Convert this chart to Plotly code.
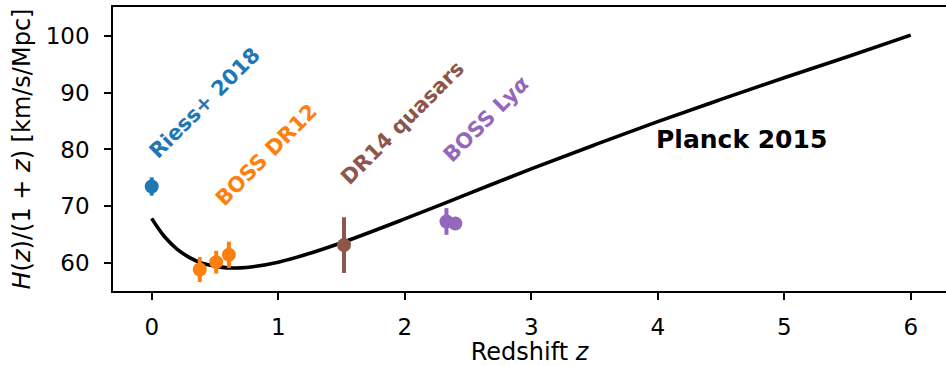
import plotly.graph_objects as go

# Planck 2015 curve
curve_z = [0.0, 0.05, 0.1, 0.2, 0.3, 0.4, 0.5, 0.6, 0.7, 0.8, 1.0, 1.2, 1.5, 2.0, 2.5, 3.0, 3.5, 4.0, 4.5, 5.0, 5.5, 6.0]
curve_h = [67.9, 66.2, 64.7, 62.5, 61.0, 60.0, 59.5, 59.2, 59.2, 59.4, 60.2, 61.4, 63.6, 67.8, 72.2, 76.6, 80.8, 84.9, 88.8, 92.6, 96.3, 100.1]

# Measurements
riess_z = [0.0]
riess_h = [73.5]
riess_err = [1.6]

dr12_z = [0.38, 0.51, 0.61]
dr12_h = [58.9, 60.2, 61.5]
dr12_err = [2.2, 2.0, 2.3]

qso_z = [1.52]
qso_h = [63.2]
qso_err = [4.9]

lya_z = [2.33, 2.40]
lya_h = [67.35, 67.0]
lya_err = [2.35, 1.0]

# Labels
labels = ["Riess+ 2018", "BOSS DR12", "DR14 quasars", "BOSS Ly<i>α</i>", "Planck 2015"]
label_x = [0.42, 0.907, 1.983, 2.647, 4.665]
label_y = [88.1, 78.96, 84.6, 85.3, 81.8]
label_angle = [-45, -45, -45, -45, 0]
label_size = [21, 21, 21, 21, 25]
colors = ["#1f77b4", "#ff7f0e", "#8c564b", "#9467bd", "black"]

FONT = "DejaVu Sans"

fig = go.Figure()
fig.add_trace(go.Scatter(x=curve_z, y=curve_h, mode="lines", line=dict(color="black", width=3.6, shape="spline"), showlegend=False))

def pts(x, y, e, c):
    fig.add_trace(go.Scatter(
        x=x, y=y, mode="markers",
        marker=dict(color=c, size=14),
        error_y=dict(type="data", array=e, visible=True, color=c, thickness=4, width=0),
        showlegend=False))

pts(riess_z, riess_h, riess_err, colors[0])
pts(dr12_z, dr12_h, dr12_err, colors[1])
pts(qso_z, qso_h, qso_err, colors[2])
pts(lya_z, lya_h, lya_err, colors[3])

for t, x, y, a, s, c in zip(labels, label_x, label_y, label_angle, label_size, colors):
    fig.add_annotation(x=x, y=y, text="<b>" + t + "</b>", textangle=a, showarrow=False,
                       xanchor="center", yanchor="middle",
                       font=dict(family=FONT, size=s, color=c))

fig.update_layout(
    width=946, height=366,
    margin=dict(l=113, r=0, t=7, b=75),
    paper_bgcolor="white", plot_bgcolor="white",
    font=dict(family=FONT, size=23, color="black"),
)
fig.update_xaxes(
    range=[-0.306, 6.279], tickvals=[0, 1, 2, 3, 4, 5, 6],
    showline=True, linecolor="black", linewidth=1.6, mirror=True,
    ticks="outside", ticklen=7, tickwidth=1.6, tickcolor="black",
    showgrid=False, zeroline=False,
    tickfont=dict(family=FONT, size=23, color="black"),
    title=dict(text="Redshift <i>z</i>", standoff=6,
               font=dict(family=FONT, size=24, color="black")),
    ticklabelstandoff=8,
)
fig.update_yaxes(
    range=[55.13, 105.04], tickvals=[60, 70, 80, 90, 100],
    showline=True, linecolor="black", linewidth=1.6, mirror=False,
    ticks="outside", ticklen=7, tickwidth=1.6, tickcolor="black",
    showgrid=False, zeroline=False,
    tickfont=dict(family=FONT, size=23, color="black"),
    title=dict(text="<i>H</i>(<i>z</i>)/(1 + <i>z</i>) [km/s/Mpc]", standoff=8,
               font=dict(family=FONT, size=24, color="black")),
    ticklabelstandoff=10,
)

fig.write_html("out.html")
